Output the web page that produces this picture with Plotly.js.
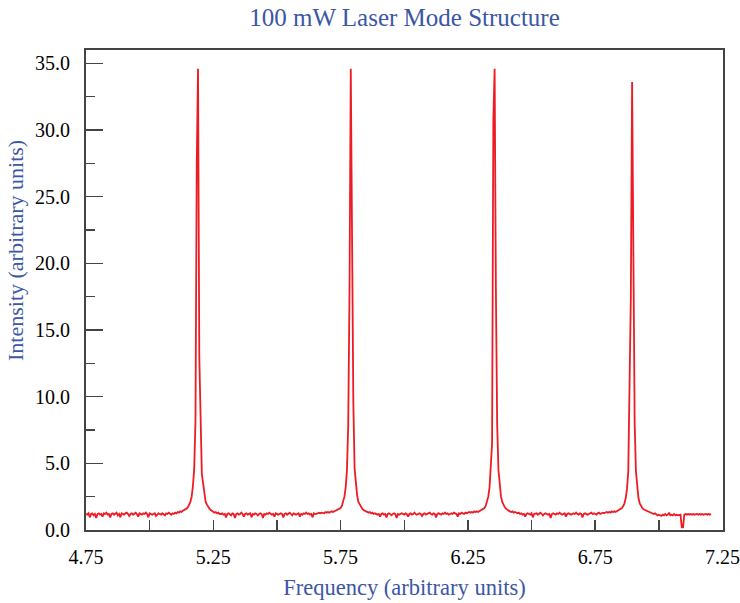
<!DOCTYPE html>
<html>
<head>
<meta charset="utf-8">
<script src="https://cdn.plot.ly/plotly-3.0.1.min.js"></script>
<style>html,body{margin:0;padding:0;background:#fff;}#chart{width:740px;height:603px;}</style>
</head>
<body>
<div id="chart"></div>
<script>
// Sampling grid of the measured trace (arbitrary frequency units)
const freqStart = 4.75;
const freqStep = 0.005;

// Intensity readings, segment by segment
const baseline1 = [
  1.2, 1.15, 1.25, 0.95, 1.2, 1.25, 1.1, 1.2, 0.9, 1.2, 1.25, 1.15, 1.2, 1.0, 1.25, 1.2, 1.3, 1.15, 1.2, 0.95,
  1.2, 1.25, 1.15, 1.2, 1.3, 1.1, 1.2, 0.95, 1.25, 1.2, 1.15, 1.25, 1.3, 1.2, 1.05, 1.2, 1.25, 1.15, 1.2, 1.3,
  1.2, 1.0, 1.25, 1.2, 1.15, 1.25, 1.2, 1.3, 1.2, 0.95, 1.25, 1.2, 1.15, 1.2, 1.25, 1.05, 1.2, 1.25, 1.2, 1.15,
  1.25, 1.2, 1.1, 1.25, 1.2, 1.3, 1.2, 1.15, 1.25, 1.2, 1.3, 1.25, 1.35, 1.3, 1.4, 1.35
];
const peak1 = [
  1.45, 1.5, 1.5, 1.6, 1.7, 1.85, 2.1, 2.5, 3.3, 4.6, 8.2, 27.5, 34.6,
  13.0, 7.5, 4.2, 3.5, 2.6, 2.1, 1.9, 1.7, 1.6, 1.5, 1.45, 1.4, 1.3, 1.35, 1.25, 1.3, 1.2
];
const baseline2 = [
  1.2, 1.25, 1.15, 1.2, 0.95, 1.2, 1.25, 1.2, 1.1, 1.25,
  1.2, 0.9, 1.2, 1.25, 1.15, 1.2, 1.3, 1.2, 1.0, 1.2,
  1.25, 1.15, 1.2, 1.25, 0.95, 1.2, 1.15, 1.25, 1.2, 1.1,
  1.2, 1.25, 1.2, 0.9, 1.2, 1.15, 1.25, 1.2, 1.3, 1.2,
  1.15, 1.2, 1.0, 1.25, 1.2, 1.15, 1.2, 1.25, 1.2, 0.95,
  1.2, 1.25, 1.15, 1.2, 1.3, 1.2, 1.1, 1.25, 1.2, 1.15,
  1.2, 1.25, 1.0, 1.2, 1.15, 1.25, 1.2, 1.3, 1.2, 1.25,
  1.15, 1.2, 0.95, 1.25, 1.2, 1.2, 1.25, 1.3, 1.25, 1.3,
  1.3, 1.25, 1.35, 1.3, 1.35, 1.3, 1.35, 1.4, 1.35, 1.4
];
const peak2 = [
  1.4, 1.45, 1.5, 1.55, 1.65, 1.8, 2.1, 2.5, 3.2, 4.5, 7.9, 17.9, 34.6,
  17.0, 9.6, 4.6, 3.3, 2.6, 2.1, 1.9, 1.7, 1.6, 1.5, 1.45, 1.4
];
const baseline3 = [
  1.35, 1.3, 1.35, 1.25, 1.3, 1.2, 1.25, 1.2, 1.15, 1.2,
  1.0, 1.2, 1.25, 1.15, 1.2, 0.95, 1.2, 1.25, 1.2, 1.1,
  1.2, 1.25, 1.2, 0.9, 1.2, 1.15, 1.2, 1.25, 1.2, 1.15,
  1.25, 1.2, 1.0, 1.2, 1.25, 1.15, 1.2, 1.3, 1.2, 1.15,
  1.2, 1.25, 1.2, 1.05, 1.2, 1.25, 1.15, 1.2, 1.25, 1.3,
  1.2, 1.15, 1.25, 1.2, 0.95, 1.2, 1.25, 1.2, 1.15, 1.25,
  1.2, 1.3, 1.2, 1.25, 1.15, 1.2, 1.25, 1.2, 1.3, 1.25,
  1.2, 1.0, 1.25, 1.2, 1.3, 1.25, 1.2, 1.3, 1.25, 1.3,
  1.35, 1.3, 1.35, 1.3, 1.4, 1.35, 1.4, 1.35
];
const peak3 = [
  1.4, 1.45, 1.5, 1.55, 1.65, 1.8, 2.1, 2.5, 3.2, 4.5, 6.5, 30.8, 34.6,
  17.9, 7.9, 4.5, 3.2, 2.5, 2.1, 1.85, 1.7, 1.6, 1.5, 1.45, 1.4
];
const baseline4 = [
  1.35, 1.4, 1.3, 1.35, 1.3, 1.25, 1.3, 1.2, 1.25, 1.15,
  1.2, 1.0, 1.2, 1.25, 1.2, 1.15, 1.25, 0.95, 1.2, 1.2,
  1.25, 1.15, 1.2, 1.3, 1.2, 1.1, 1.2, 1.25, 1.2, 1.15,
  1.2, 0.9, 1.2, 1.25, 1.2, 1.15, 1.25, 1.2, 1.3, 1.2,
  1.15, 1.2, 1.25, 1.0, 1.2, 1.25, 1.2, 1.15, 1.2, 1.25,
  1.2, 1.3, 1.2, 1.15, 1.25, 1.2, 0.95, 1.2, 1.25, 1.2,
  1.15, 1.2, 1.25, 1.3, 1.2, 1.25, 1.2, 1.15, 1.25, 1.3,
  1.2, 1.25, 1.3, 1.25, 1.3, 1.35, 1.3, 1.35, 1.3, 1.4,
  1.35, 1.4, 1.35
];
const peak4 = [
  1.4, 1.45, 1.5, 1.55, 1.65, 1.8, 2.0, 2.4, 3.1, 4.4, 9.5, 17.5, 33.6,
  20.3, 8.0, 4.4, 3.1, 2.4, 2.0, 1.8, 1.65, 1.55, 1.5, 1.45, 1.4
];
const baseline5 = [
  1.35, 1.3, 1.3, 1.25, 1.2, 1.25, 1.15, 1.1, 1.15, 1.1,
  1.05, 1.15, 1.1, 1.2, 1.1, 1.15, 1.3, 1.1, 1.15, 1.1,
  1.2, 1.1, 1.15, 1.1, 1.15
];
const dropout = [1.15, 0.2, 0.2, 1.15];
const baseline6 = [
  1.2, 1.15, 1.2, 1.15, 1.2, 1.15, 1.2, 1.15, 1.2, 1.2,
  1.15, 1.2, 1.15, 1.2, 1.15, 1.2, 1.2, 1.15, 1.2, 1.15, 1.2
];

const intensity = [].concat(baseline1, peak1, baseline2, peak2, baseline3, peak3,
                            baseline4, peak4, baseline5, dropout, baseline6);

const xTickVals = [4.75, 5.25, 5.75, 6.25, 6.75, 7.25];
const xTickText = ['4.75', '5.25', '5.75', '6.25', '6.75', '7.25'];

const titleText = '100 mW Laser Mode Structure';
const xTitle = 'Frequency (arbitrary units)';
const yTitle = 'Intensity (arbitrary units)';

const serif = 'Liberation Serif, Times New Roman, serif';
const blue = '#3b56a6';
const axisColor = '#444';

const trace = {
  type: 'scatter',
  mode: 'lines',
  x0: freqStart,
  dx: freqStep,
  y: intensity,
  line: {color: '#ed1c24', width: 1.8},
  hoverinfo: 'x+y'
};

const layout = {
  width: 740,
  height: 603,
  margin: {l: 86, r: 17, t: 50, b: 73},
  paper_bgcolor: '#ffffff',
  plot_bgcolor: '#ffffff',
  showlegend: false,
  title: {
    text: titleText,
    font: {family: serif, size: 25, color: blue},
    x: 0.5, xref: 'paper', xanchor: 'center',
    y: 1 - 17 / 603, yref: 'container', yanchor: 'middle'
  },
  xaxis: {
    range: [4.75, 7.252],
    tickmode: 'array',
    tickvals: xTickVals,
    ticktext: xTickText,
    ticks: 'inside',
    ticklen: 10,
    tickwidth: 1.5,
    tickcolor: axisColor,
    minor: {tick0: 4.75, dtick: 0.25, ticks: 'inside', ticklen: 10, tickwidth: 1.5, tickcolor: axisColor},
    ticklabeloverflow: 'allow',
    showline: true,
    mirror: true,
    linecolor: axisColor,
    linewidth: 2,
    showgrid: false,
    zeroline: false,
    ticklabelstandoff: 8,
    tickfont: {family: serif, size: 20, color: '#000'},
    title: {text: xTitle, font: {family: serif, size: 22.5, color: blue}, standoff: 12}
  },
  yaxis: {
    range: [0, 36],
    tick0: 0,
    dtick: 5,
    tickformat: '.1f',
    ticks: 'inside',
    ticklen: 17,
    tickwidth: 1.5,
    tickcolor: axisColor,
    minor: {dtick: 2.5, ticks: 'inside', ticklen: 9, tickwidth: 1.5, tickcolor: axisColor},
    showline: true,
    mirror: true,
    linecolor: axisColor,
    linewidth: 2,
    showgrid: false,
    zeroline: false,
    ticklabelstandoff: 10,
    tickfont: {family: serif, size: 20, color: '#000'}
  },
  annotations: [{
    text: yTitle,
    textangle: -90,
    xref: 'paper', x: (16 - 86) / 637, xanchor: 'center',
    yref: 'paper', y: (530 - 251) / 480, yanchor: 'middle',
    showarrow: false,
    font: {family: serif, size: 22, color: blue}
  }]
};

Plotly.newPlot('chart', [trace], layout, {displayModeBar: false, staticPlot: true});
</script>
</body>
</html>
